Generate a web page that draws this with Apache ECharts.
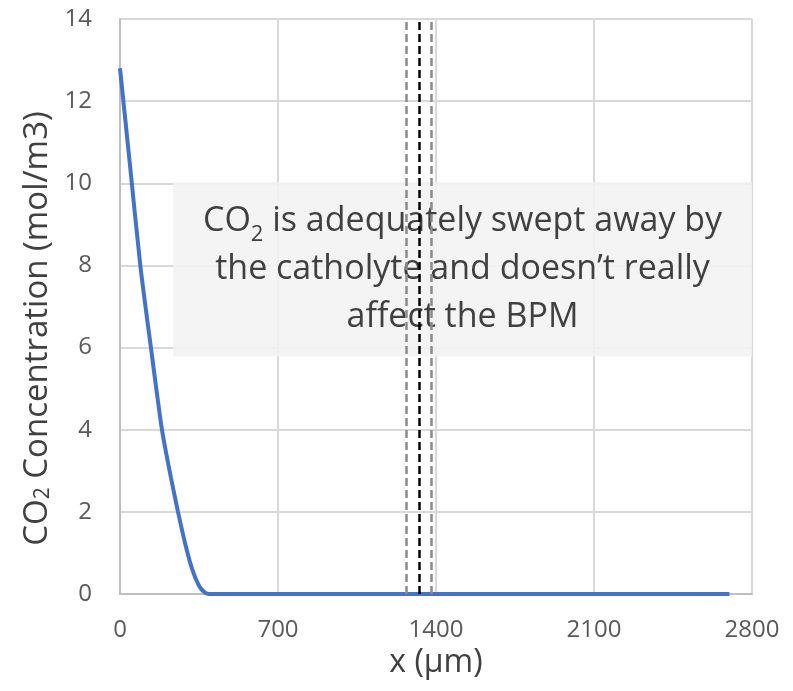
<!DOCTYPE html>
<html>
<head>
<meta charset="utf-8">
<script src="https://cdn.jsdelivr.net/npm/echarts@6/dist/echarts.min.js"></script>
<style>
  html, body { margin: 0; padding: 0; background: #fff; }
  #chart { width: 793px; height: 691px; }
</style>
</head>
<body>
<div id="chart"></div>
<script>
// CO2 profile along x (µm)
const xVals = [0, 45, 90, 137, 186, 225, 257, 290, 320, 350, 375, 395, 700, 1400, 2100, 2700];
const conc = [12.8, 10.4, 8, 6, 4, 2.85, 2, 1.2, 0.6, 0.2, 0.04, 0, 0, 0, 0, 0];

// membrane boundaries (dashed verticals)
const bpmLines = [1267, 1325, 1378];
const bpmColors = ["#8c8c8c", "#000000", "#8c8c8c"];

// note box extent, data coords
const noteX = [235, 2800];
const noteY = [5.78, 10.03];
const noteLines = ["{a|CO}{s|2}{a| is adequately swept away by}", "{a|the catholyte and doesn\u2019t really}", "{a|affect the BPM}"];

const FONT = "'Open Sans', sans-serif";

const chart = echarts.init(document.getElementById("chart"));
chart.setOption({
  animation: false,
  grid: { left: 120, right: 41, top: 19, bottom: 97 },
  xAxis: {
    type: "value",
    min: 0,
    max: 2800,
    interval: 700,
    name: "x (µm)",
    nameLocation: "middle",
    nameGap: 48,
    nameTextStyle: { color: "#404040", fontSize: 32, fontFamily: FONT },
    axisLine: { lineStyle: { color: "#bfbfbf", width: 2 } },
    axisTick: { show: false },
    axisLabel: { color: "#595959", fontSize: 24, fontFamily: FONT, margin: 24, formatter: (v) => String(v) },
    splitLine: { show: true, lineStyle: { color: "#d9d9d9", width: 2 } },
  },
  yAxis: {
    type: "value",
    min: 0,
    max: 14,
    interval: 2,
    name: "{a|CO}{s|2}{a| Concentration (mol/m3)}",
    nameLocation: "middle",
    nameGap: 66,
    nameTextStyle: {
      color: "#404040",
      fontFamily: FONT,
      padding: [0, 44, 0, 0],
      rich: {
        a: { fontSize: 33, color: "#404040", fontFamily: FONT },
        s: { fontSize: 21, color: "#404040", fontFamily: FONT, verticalAlign: "bottom", lineHeight: 21 },
      },
    },
    axisLine: { show: true, lineStyle: { color: "#bfbfbf", width: 2 } },
    axisTick: { show: false },
    axisLabel: { color: "#595959", fontSize: 24, fontFamily: FONT, margin: 28 },
    splitLine: { lineStyle: { color: "#d9d9d9", width: 2 } },
  },
  series: [
    {
      type: "line",
      data: xVals.map((x, i) => [x, conc[i]]),
      smooth: 0.25,
      showSymbol: false,
      lineStyle: { color: "#4472c4", width: 4 },
      z: 4,
    },
    {
      type: "line",
      data: [],
      z: 3,
      markLine: {
        silent: true,
        symbol: "none",
        label: { show: false },
        data: bpmLines.map((x, i) => ({
          xAxis: x,
          lineStyle: { color: bpmColors[i], width: 2.5, type: [8, 4] },
        })),
      },
    },
    {
      type: "line",
      data: [],
      z: 5,
      markArea: {
        silent: true,
        itemStyle: { color: "rgba(242,242,242,0.88)" },
        label: {
          show: true,
          position: "inside",
          formatter: noteLines.join("\n"),
          rich: {
            a: { fontSize: 34, color: "#404040", fontFamily: FONT, lineHeight: 48 },
            s: { fontSize: 22, color: "#404040", fontFamily: FONT, verticalAlign: "bottom", lineHeight: 22 },
          },
          align: "center",
        },
        data: [[{ coord: [noteX[0], noteY[1]] }, { coord: [noteX[1], noteY[0]] }]],
      },
    },
  ],
});
</script>
</body>
</html>
